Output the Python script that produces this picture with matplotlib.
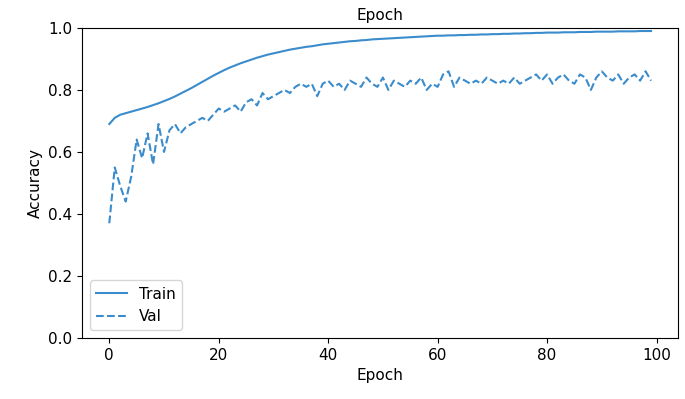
import matplotlib.pyplot as plt
import numpy as np

# accuracy per epoch
train_acc = [0.69, 0.71, 0.72, 0.725, 0.73, 0.735, 0.74, 0.745, 0.751, 0.757,
             0.764, 0.771, 0.779, 0.788, 0.797, 0.806, 0.816, 0.826, 0.836, 0.846,
             0.855, 0.864, 0.872, 0.879, 0.886, 0.892, 0.898, 0.904, 0.909, 0.914,
             0.918, 0.922, 0.926, 0.93, 0.933, 0.936, 0.939, 0.941, 0.944, 0.947,
             0.949, 0.951, 0.953, 0.955, 0.957, 0.958, 0.960, 0.961, 0.963, 0.964,
             0.965, 0.966, 0.967, 0.968, 0.969, 0.970, 0.971, 0.972, 0.973, 0.974,
             0.975, 0.975, 0.976, 0.976, 0.977, 0.977, 0.978, 0.978, 0.979, 0.979,
             0.980, 0.980, 0.981, 0.981, 0.982, 0.982, 0.983, 0.983, 0.984, 0.984,
             0.985, 0.985, 0.985, 0.986, 0.986, 0.986, 0.987, 0.987, 0.987, 0.988,
             0.988, 0.988, 0.988, 0.989, 0.989, 0.989, 0.989, 0.990, 0.990, 0.990]

val_acc = [0.37, 0.55, 0.49, 0.44, 0.52, 0.64, 0.58, 0.66, 0.56, 0.69,
           0.60, 0.67, 0.69, 0.66, 0.68, 0.69, 0.70, 0.71, 0.70, 0.72,
           0.74, 0.73, 0.74, 0.75, 0.73, 0.76, 0.77, 0.75, 0.79, 0.77,
           0.78, 0.79, 0.80, 0.79, 0.81, 0.82, 0.81, 0.82, 0.78, 0.82,
           0.83, 0.81, 0.82, 0.80, 0.83, 0.82, 0.81, 0.84, 0.82, 0.81,
           0.84, 0.80, 0.83, 0.82, 0.81, 0.83, 0.82, 0.84, 0.80, 0.82,
           0.81, 0.85, 0.86, 0.81, 0.84, 0.83, 0.82, 0.83, 0.82, 0.84,
           0.83, 0.82, 0.83, 0.82, 0.84, 0.82, 0.83, 0.84, 0.85, 0.83,
           0.85, 0.82, 0.84, 0.85, 0.83, 0.82, 0.85, 0.84, 0.80, 0.84,
           0.86, 0.84, 0.83, 0.85, 0.82, 0.84, 0.85, 0.83, 0.86, 0.83]

epochs = np.arange(len(train_acc))

fig = plt.figure(figsize=(6.85, 3.99), dpi=100)
ax = fig.add_axes([0.12, 0.153, 0.87, 0.777])

ax.plot(epochs, train_acc, color='#3a8ccc', label='Train')
ax.plot(epochs, val_acc, color='#3a8ccc', linestyle='--', label='Val')

ax.set_ylim(0, 1)
ax.set_xlabel('Epoch', fontsize=11)
ax.set_ylabel('Accuracy', fontsize=11)
ax.set_title('Epoch', fontsize=11, pad=6)
ax.tick_params(labelsize=11)
ax.legend(loc='lower left', fontsize=11)

fig.savefig('out.png')
